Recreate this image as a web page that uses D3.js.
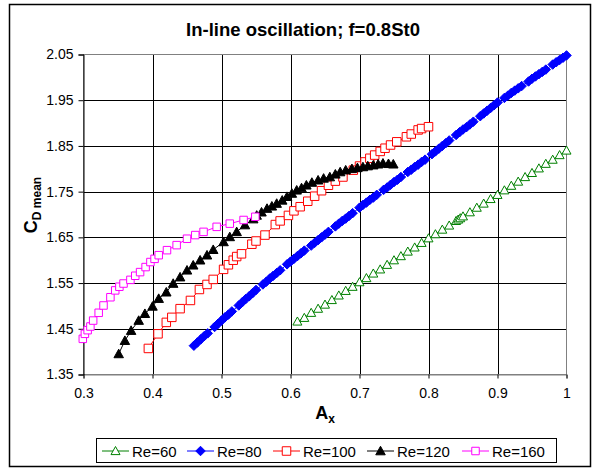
<!DOCTYPE html>
<html>
<head>
<meta charset="utf-8">
<script src="https://cdn.jsdelivr.net/npm/d3@7"></script>
<style>
  body { margin: 0; background: #fff; }
  svg { display: block; font-family: "Liberation Sans", Arial, sans-serif; }
</style>
</head>
<body>
<svg id="chart" width="594" height="472"></svg>
<script>
// In-line oscillation, mean drag vs amplitude
const xTicks = [0.3, 0.4, 0.5, 0.6, 0.7, 0.8, 0.9, 1];
const yTicks = [1.35, 1.45, 1.55, 1.65, 1.75, 1.85, 1.95, 2.05];

const re60 = [
  [0.61,1.466],[0.62,1.474],[0.63,1.485],[0.64,1.494],[0.65,1.503],[0.66,1.513],[0.67,1.523],
  [0.68,1.533],[0.69,1.542],[0.70,1.552],[0.71,1.561],[0.72,1.571],[0.73,1.580],[0.74,1.590],
  [0.75,1.600],[0.76,1.609],[0.77,1.619],[0.78,1.628],[0.79,1.638],[0.80,1.648],[0.81,1.657],
  [0.82,1.667],[0.83,1.676],[0.84,1.686],[0.843,1.689],[0.846,1.692],[0.85,1.696],[0.86,1.705],
  [0.87,1.715],[0.88,1.724],[0.89,1.734],[0.90,1.743],[0.91,1.753],[0.92,1.763],[0.93,1.772],
  [0.94,1.782],[0.95,1.791],[0.96,1.801],[0.97,1.811],[0.98,1.820],[0.99,1.830],[1.00,1.840]
];

const re80 = [
  [0.460,1.413],[0.465,1.420],[0.470,1.427],[0.475,1.434],[0.480,1.440],[0.490,1.454],[0.495,1.461],
  [0.500,1.468],[0.505,1.475],[0.510,1.481],[0.515,1.488],[0.525,1.501],[0.530,1.508],[0.535,1.515],
  [0.540,1.521],[0.545,1.528],[0.550,1.535],[0.560,1.547],[0.565,1.553],[0.570,1.560],[0.575,1.566],
  [0.580,1.572],[0.585,1.578],[0.595,1.591],[0.600,1.597],[0.605,1.603],[0.610,1.609],[0.615,1.615],
  [0.620,1.621],[0.630,1.632],[0.635,1.638],[0.640,1.644],[0.645,1.650],[0.650,1.656],[0.655,1.662],
  [0.665,1.674],[0.670,1.680],[0.675,1.686],[0.680,1.691],[0.685,1.697],[0.690,1.703],[0.700,1.715],
  [0.705,1.721],[0.710,1.726],[0.715,1.732],[0.720,1.737],[0.725,1.743],[0.735,1.754],[0.740,1.759],
  [0.745,1.765],[0.750,1.771],[0.755,1.776],[0.760,1.782],[0.770,1.793],[0.775,1.798],[0.780,1.804],
  [0.785,1.809],[0.790,1.815],[0.795,1.820],[0.805,1.832],[0.810,1.838],[0.815,1.844],[0.820,1.850],
  [0.825,1.856],[0.830,1.862],[0.840,1.874],[0.845,1.880],[0.850,1.886],[0.855,1.891],[0.860,1.897],
  [0.865,1.903],[0.875,1.915],[0.880,1.921],[0.885,1.927],[0.890,1.933],[0.895,1.939],[0.900,1.945],
  [0.910,1.955],[0.915,1.960],[0.920,1.966],[0.925,1.971],[0.930,1.976],[0.935,1.981],[0.945,1.991],
  [0.950,1.997],[0.955,2.002],[0.960,2.007],[0.965,2.012],[0.970,2.017],[0.980,2.028],[0.985,2.033],
  [0.990,2.038],[0.995,2.043],[1.000,2.048]
];

const re100 = [
  [0.394,1.407],[0.408,1.439],[0.420,1.464],[0.428,1.475],[0.440,1.494],[0.455,1.512],[0.468,1.536],
  [0.479,1.547],[0.488,1.558],[0.503,1.580],[0.510,1.590],[0.517,1.600],[0.522,1.608],[0.529,1.614],
  [0.544,1.635],[0.550,1.642],[0.563,1.655],[0.578,1.678],[0.585,1.686],[0.597,1.698],[0.605,1.708],
  [0.614,1.717],[0.625,1.729],[0.635,1.740],[0.645,1.752],[0.655,1.764],[0.665,1.773],[0.676,1.782],
  [0.691,1.797],[0.700,1.806],[0.708,1.815],[0.715,1.823],[0.722,1.830],[0.730,1.838],[0.737,1.845],
  [0.745,1.852],[0.754,1.859],[0.768,1.870],[0.775,1.876],[0.785,1.885],[0.790,1.888],[0.800,1.892]
];

const re120 = [
  [0.351,1.395],[0.360,1.424],[0.369,1.446],[0.380,1.468],[0.389,1.483],[0.400,1.499],[0.409,1.516],
  [0.420,1.530],[0.430,1.549],[0.440,1.563],[0.450,1.578],[0.459,1.589],[0.469,1.600],[0.479,1.611],
  [0.488,1.623],[0.503,1.640],[0.512,1.651],[0.522,1.662],[0.534,1.677],[0.546,1.690],[0.551,1.698],
  [0.558,1.705],[0.566,1.713],[0.573,1.718],[0.580,1.724],[0.588,1.731],[0.595,1.739],[0.602,1.746],
  [0.609,1.753],[0.616,1.758],[0.623,1.764],[0.631,1.770],[0.640,1.775],[0.648,1.779],[0.657,1.782],
  [0.665,1.788],[0.672,1.793],[0.680,1.797],[0.689,1.800],[0.697,1.802],[0.705,1.804],[0.712,1.806],
  [0.720,1.808],[0.727,1.810],[0.734,1.812],[0.742,1.811],[0.749,1.810]
];

const re160 = [
  [0.299,1.428],[0.302,1.439],[0.306,1.447],[0.310,1.455],[0.314,1.468],[0.322,1.485],[0.329,1.501],
  [0.339,1.519],[0.346,1.534],[0.352,1.542],[0.358,1.549],[0.368,1.557],[0.375,1.566],[0.382,1.574],
  [0.390,1.585],[0.397,1.596],[0.403,1.603],[0.409,1.611],[0.421,1.622],[0.435,1.633],[0.450,1.647],
  [0.462,1.655],[0.474,1.662],[0.493,1.673],[0.512,1.680],[0.532,1.688],[0.549,1.695]
];

const series = [
  { name: "Re=60",  data: re60,  color: "#008000", shape: "triangle", filled: false, size: 9 },
  { name: "Re=80",  data: re80,  color: "#0000ff", shape: "diamond",  filled: true,  size: 9.5 },
  { name: "Re=100", data: re100, color: "#ff0000", shape: "square",   filled: false, size: 8.5 },
  { name: "Re=120", data: re120, color: "#000000", shape: "triangle", filled: true,  size: 9.5 },
  { name: "Re=160", data: re160, color: "#ff00ff", shape: "square",   filled: false, size: 7.5 }
];

const svg = d3.select("#chart");

// marker path centred on 0,0
function markerPath(shape, s) {
  const h = s / 2;
  if (shape === "triangle") return `M0,${-h}L${h},${h * 0.8}L${-h},${h * 0.8}Z`;
  if (shape === "diamond") return `M0,${-h}L${h},0L0,${h}L${-h},0Z`;
  return `M${-h},${-h}H${h}V${h}H${-h}Z`;
}

// outer frame
svg.append("rect")
    .attr("x", 9.5).attr("y", 4.5)
    .attr("width", 581).attr("height", 462)
    .attr("fill", "#fff")
    .attr("stroke", "#000")
    .attr("stroke-width", 1.5);

const x = d3.scaleLinear().domain([0.3, 1]).range([83.5, 566.5]);
const y = d3.scaleLinear().domain([1.35, 2.05]).range([374.5, 54.5]);

// grid
svg.append("g")
    .attr("stroke", "#000")
    .attr("stroke-width", 1)
    .selectAll("line.v")
    .data(xTicks.slice(1, -1))
    .join("line")
      .attr("x1", d => Math.round(x(d)) + 0.5).attr("x2", d => Math.round(x(d)) + 0.5)
      .attr("y1", y(2.05)).attr("y2", y(1.35));

svg.append("g")
    .attr("stroke", "#000")
    .attr("stroke-width", 1)
    .selectAll("line")
    .data(yTicks.slice(1, -1))
    .join("line")
      .attr("x1", x(0.3)).attr("x2", x(1))
      .attr("y1", d => Math.round(y(d)) + 0.5).attr("y2", d => Math.round(y(d)) + 0.5);

// plot area border (grey)
svg.append("rect")
    .attr("x", x(0.3)).attr("y", y(2.05))
    .attr("width", x(1) - x(0.3)).attr("height", y(1.35) - y(2.05))
    .attr("fill", "none")
    .attr("stroke", "#808080");

// axes
const xAxis = svg.append("g")
    .attr("transform", `translate(0,${y(1.35)})`)
    .call(d3.axisBottom(x).tickValues(xTicks).tickSize(4).tickPadding(10)
      .tickFormat(d3.format("")));
const yAxis = svg.append("g")
    .attr("transform", `translate(${x(0.3)},0)`)
    .call(d3.axisLeft(y).tickValues(yTicks).tickSize(5).tickPadding(5)
      .tickFormat(d3.format(".2f")));
[xAxis, yAxis].forEach(g => {
  g.select(".domain").attr("stroke", "#808080");
  g.selectAll(".tick line").attr("stroke", "#000");
  g.selectAll(".tick text").attr("fill", "#000")
    .style("font-size", "14px").style("font-family", "Liberation Sans, Arial, sans-serif");
});
yAxis.select(".domain").attr("stroke", "#000");

// series
const line = d3.line().x(d => x(d[0])).y(d => y(d[1]));
series.forEach(s => {
  const g = svg.append("g");
  g.append("path")
      .attr("d", line(s.data))
      .attr("fill", "none")
      .attr("stroke", s.color)
      .attr("stroke-width", 1);
  g.selectAll("path.m")
      .data(s.data)
      .join("path")
      .attr("class", "m")
      .attr("transform", d => `translate(${x(d[0])},${y(d[1])})`)
      .attr("d", markerPath(s.shape, s.size))
      .attr("fill", s.filled ? s.color : "#fff")
      .attr("stroke", s.color)
      .attr("stroke-width", 1);
});

// title
svg.append("text")
    .attr("x", 303).attr("y", 36)
    .attr("text-anchor", "middle")
    .style("font-size", "18.5px").style("font-weight", "bold")
    .text("In-line oscillation; f=0.8St0");

// axis titles
const xt = svg.append("text")
    .attr("x", 325).attr("y", 419)
    .attr("text-anchor", "middle")
    .style("font-size", "18px").style("font-weight", "bold");
xt.append("tspan").text("A");
xt.append("tspan").attr("dy", 4).style("font-size", "12px").text("x");

const yt = svg.append("text")
    .attr("transform", "translate(37,205) rotate(-90)")
    .attr("text-anchor", "middle")
    .style("font-size", "18px").style("font-weight", "bold");
yt.append("tspan").text("C");
yt.append("tspan").attr("dy", 4).style("font-size", "12px").text("D mean");

// legend
const legend = svg.append("g");
legend.append("rect")
    .attr("x", 96.5).attr("y", 438.5)
    .attr("width", 460).attr("height", 24)
    .attr("fill", "#fff")
    .attr("stroke", "#000");
const legendX = [102, 187, 273, 367, 462];
series.forEach((s, i) => {
  const g = legend.append("g").attr("transform", `translate(${legendX[i]},451)`);
  g.append("line").attr("x1", 0).attr("x2", 27).attr("stroke", s.color);
  g.append("path")
      .attr("transform", "translate(13.5,0)")
      .attr("d", markerPath(s.shape, s.size))
      .attr("fill", s.filled ? s.color : "#fff")
      .attr("stroke", s.color);
  g.append("text")
      .attr("x", 30).attr("y", 5.5)
      .style("font-size", "15px")
      .text(s.name);
});
</script>
</body>
</html>
